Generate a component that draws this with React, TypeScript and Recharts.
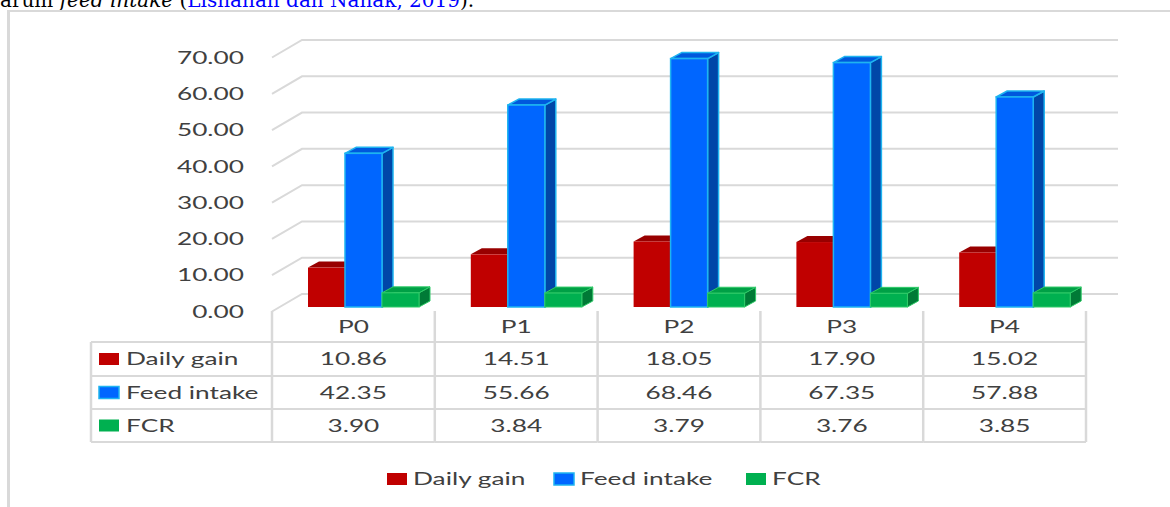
import { Bar, BarChart, CartesianGrid, Legend, XAxis, YAxis } from "recharts";

const categories = ["P0", "P1", "P2", "P3", "P4"];
const dailyGain = [10.86, 14.51, 18.05, 17.9, 15.02];
const feedIntake = [42.35, 55.66, 68.46, 67.35, 57.88];
const fcr = [3.9, 3.84, 3.79, 3.76, 3.85];
const yTicks = [0, 10, 20, 30, 40, 50, 60, 70];

const SERIES = [
  { key: "dailyGain", name: "Daily gain", values: dailyGain },
  { key: "feedIntake", name: "Feed intake", values: feedIntake },
  { key: "fcr", name: "FCR", values: fcr },
];

const STYLES: Record<string, any> = {
  dailyGain: { front: "#C00000", top: "#980000", side: "#7C0000", edge: "#C00000", edgeW: 0 },
  feedIntake: { front: "#0066FF", top: "#0058DD", side: "#0046A8", edge: "#1EB4F0", edgeW: 1.5 },
  fcr: { front: "#00B050", top: "#00A046", side: "#007A36", edge: "#2FCB68", edgeW: 1 },
};

const data = categories.map((name, i) => ({
  name,
  dailyGain: dailyGain[i],
  feedIntake: feedIntake[i],
  fcr: fcr[i],
}));

const W = 1170;
const H = 507;
const PLOT_LEFT = 272;
const PLOT_RIGHT = 1086;
const PLOT_TOP = 53;
const PLOT_BOTTOM = 307;

// 3d look of the floor / back wall
const FRONT_DY = 4.5;
const BACK_DX = 30;
const BACK_DY = 13;
const BACK_EXT = 32;

// 3d look of the columns
const DX = 11;
const DY = 6;
const BAR_SHIFT = 10;

const LINE = "#D9D9D9";
const TEXT = "#404040";
const FONT = "Lato, 'Open Sans', sans-serif";
const FS = 17.5;
const SX = 1.5;
const CAP = 6.2;

const TABLE_TOP = 311;
const ROW_LINES = [342, 376, 409, 442];
const TABLE_LEFT = 91;
const LABEL_RIGHT = 244;
const LEGEND_X = [0, 167, 359];

function Txt({ x, cy, anchor = "middle", children }: any) {
  return (
    <text
      transform={`translate(${x} ${cy + CAP}) scale(${SX} 1)`}
      textAnchor={anchor}
      fontFamily={FONT}
      fontSize={FS}
      fill={TEXT}
    >
      {children}
    </text>
  );
}

function KeyBox({ x, cy, k }: any) {
  const st = STYLES[k];
  return (
    <rect
      x={x}
      y={cy - 6}
      width={20}
      height={12}
      fill={st.front}
      stroke={k === "feedIntake" ? st.edge : "none"}
      strokeWidth={1.5}
    />
  );
}

function makeBox(k: string) {
  const st = STYLES[k];
  return (p: any) => {
    const { x, y, width: w, height: h } = p;
    if (!Number.isFinite(x) || !Number.isFinite(y) || !w) return <g />;
    const x0 = x + BAR_SHIFT;
    const topFace = `${x0},${y} ${x0 + DX},${y - DY} ${x0 + w + DX},${y - DY} ${x0 + w},${y}`;
    const sideFace = `${x0 + w},${y} ${x0 + w + DX},${y - DY} ${x0 + w + DX},${y + h - DY} ${x0 + w},${y + h}`;
    const stroke = st.edgeW ? st.edge : "none";
    return (
      <g>
        <polygon points={sideFace} fill={st.side} stroke={stroke} strokeWidth={st.edgeW} strokeLinejoin="round" />
        <polygon points={topFace} fill={st.top} stroke={stroke} strokeWidth={st.edgeW} strokeLinejoin="round" />
        <rect x={x0} y={y} width={w} height={h} fill={st.front} stroke={stroke} strokeWidth={st.edgeW} />
      </g>
    );
  };
}

function GridLine(p: any) {
  const { x1, x2, y1 } = p;
  const fy = y1 + FRONT_DY;
  const by = y1 - BACK_DY;
  return (
    <polyline
      key={`g-${y1}`}
      points={`${x1},${fy} ${x1 + BACK_DX},${by} ${x2 + BACK_EXT},${by}`}
      fill="none"
      stroke={LINE}
      strokeWidth={2}
    />
  );
}

function YTick({ y, payload }: any) {
  return (
    <Txt x={LABEL_RIGHT} cy={y + FRONT_DY} anchor="end">
      {Number(payload.value).toFixed(2)}
    </Txt>
  );
}

function TableTick({ x, payload, index }: any) {
  const bw = (PLOT_RIGHT - PLOT_LEFT) / categories.length;
  const l = x - bw / 2;
  const r = x + bw / 2;
  const last = ROW_LINES[ROW_LINES.length - 1];
  return (
    <g>
      <line x1={l} y1={TABLE_TOP} x2={l} y2={last} stroke={LINE} strokeWidth={2.5} />
      {index === categories.length - 1 && (
        <line x1={r} y1={TABLE_TOP} x2={r} y2={last} stroke={LINE} strokeWidth={2.5} />
      )}
      {ROW_LINES.map((ry) => (
        <line key={ry} x1={l} y1={ry} x2={r} y2={ry} stroke={LINE} strokeWidth={2} />
      ))}
      <Txt x={x} cy={(TABLE_TOP + ROW_LINES[0]) / 2}>{payload.value}</Txt>
      {SERIES.map((s, k) => (
        <Txt key={s.key} x={x} cy={(ROW_LINES[k] + ROW_LINES[k + 1]) / 2}>
          {s.values[index].toFixed(2)}
        </Txt>
      ))}
      {index === 0 && (
        <g>
          <line x1={TABLE_LEFT} y1={ROW_LINES[0]} x2={TABLE_LEFT} y2={last} stroke={LINE} strokeWidth={2.5} />
          {ROW_LINES.map((ry) => (
            <line key={ry} x1={TABLE_LEFT} y1={ry} x2={l} y2={ry} stroke={LINE} strokeWidth={2} />
          ))}
          {SERIES.map((s, k) => {
            const cy = (ROW_LINES[k] + ROW_LINES[k + 1]) / 2;
            return (
              <g key={s.key}>
                <KeyBox x={TABLE_LEFT + 8} cy={cy} k={s.key} />
                <Txt x={TABLE_LEFT + 35} cy={cy} anchor="start">
                  {s.name}
                </Txt>
              </g>
            );
          })}
        </g>
      )}
    </g>
  );
}

function LegendContent(props: any) {
  const items = props.payload ?? [];
  // keep the series order (the legend sorts by name otherwise)
  const ordered = SERIES.map((s) => items.find((it: any) => it.dataKey === s.key)).filter(Boolean);
  return (
    <svg width={460} height={24} style={{ display: "block", overflow: "visible" }}>
      {ordered.map((it: any, i: number) => (
        <g key={it.dataKey ?? i}>
          <KeyBox x={LEGEND_X[i]} cy={12} k={it.dataKey} />
          <Txt x={LEGEND_X[i] + 26} cy={12} anchor="start">
            {it.value}
          </Txt>
        </g>
      ))}
    </svg>
  );
}

export default function App() {
  return (
    <div
      style={{
        position: "absolute",
        left: 0,
        top: 0,
        width: W,
        height: H,
        overflow: "hidden",
        background: "#fff",
      }}
    >
      <div
        style={{
          position: "absolute",
          left: 0,
          top: -10,
          fontFamily: "'DejaVu Serif', serif",
          fontSize: 20,
          lineHeight: "20px",
          whiteSpace: "nowrap",
          color: "#000",
        }}
      >
        arum <i>feed intake</i> (<span style={{ color: "#0000FF" }}>Lisnahan dan Nahak, 2019</span>).
      </div>
      <div
        style={{
          position: "absolute",
          left: 7,
          top: 10,
          width: 1400,
          height: 800,
          borderTop: `2px solid ${LINE}`,
          borderLeft: `3px solid ${LINE}`,
        }}
      />
      <div style={{ position: "absolute", left: 0, top: 0 }}>
        <BarChart
          width={W}
          height={H}
          data={data}
          margin={{ top: PLOT_TOP, right: W - PLOT_RIGHT, bottom: 0, left: 0 }}
          barCategoryGap={26}
          barGap={0}
        >
          <CartesianGrid vertical={false} horizontal={GridLine} />
          <XAxis
            dataKey="name"
            height={H - PLOT_BOTTOM}
            axisLine={false}
            tickLine={false}
            interval={0}
            tick={TableTick}
          />
          <YAxis
            width={PLOT_LEFT}
            domain={[0, 70]}
            ticks={yTicks}
            interval={0}
            axisLine={false}
            tickLine={false}
            tick={YTick}
          />
          <Legend
            layout="horizontal"
            verticalAlign="middle"
            align="center"
            wrapperStyle={{ left: 387, top: 467, width: 460, height: 24 }}
            content={LegendContent}
          />
          {SERIES.map((s) => (
            <Bar
              key={s.key}
              dataKey={s.key}
              name={s.name}
              fill={STYLES[s.key].front}
              shape={makeBox(s.key)}
              isAnimationActive={false}
            />
          ))}
        </BarChart>
      </div>
    </div>
  );
}
